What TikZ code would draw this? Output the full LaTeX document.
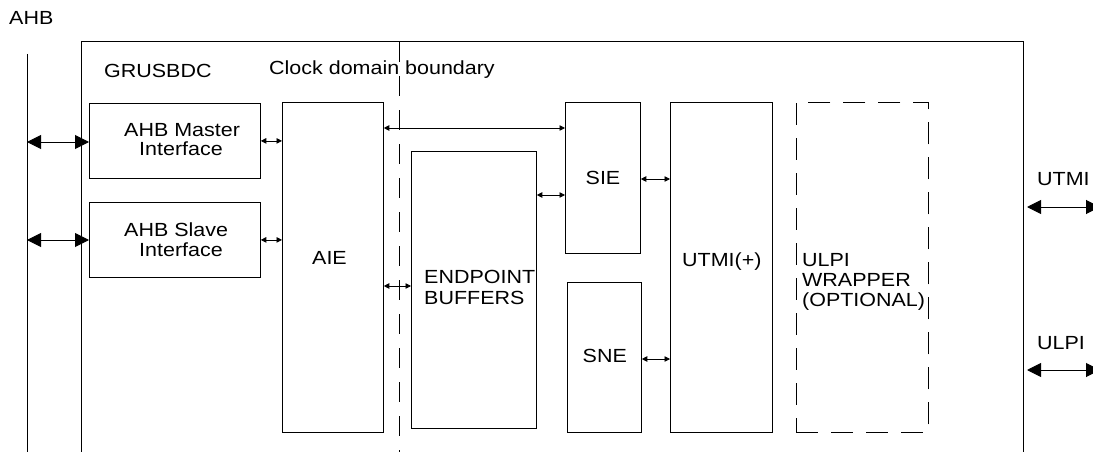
\documentclass[tikz,border=0pt]{standalone}
\usepackage{fontspec}
\setmainfont{Liberation Sans}[FakeStretch=1.13]
\usetikzlibrary{arrows.meta}
\begin{document}
\begin{tikzpicture}[x=1pt,y=-1pt,
  every node/.style={inner sep=0pt, font=\fontsize{19}{20}\selectfont},
  box/.style={draw, line width=0.8pt, anchor=north west},
  dbox/.style={box, dash pattern=on 22pt off 13pt},
  lab/.style={anchor=north west, align=left},
  big/.style={line width=1pt, {Triangle[length=14pt,width=14pt]}-{Triangle[length=14pt,width=14pt]}},
  small/.style={line width=0.8pt, {Triangle[length=5.5pt,width=5.5pt]}-{Triangle[length=5.5pt,width=5.5pt]}},
  frame/.style={line width=1pt},
  clockline/.style={line width=0.8pt, dash pattern=on 20pt off 14pt}
]
\useasboundingbox (0,0) rectangle (1093,452);
\clip (0,0) rectangle (1093,452);

% bus and outer frame
\coordinate (busTop) at (27,54);
\coordinate (busBot) at (27,460);
\draw[frame] (busTop) -- (busBot);
\coordinate (fBL) at (81,460);
\coordinate (fTL) at (81,42);
\coordinate (fTR) at (1023,42);
\coordinate (fBR) at (1023,460);
\draw[frame] (fBL) -- (fTL) -- (fTR) -- (fBR);
\coordinate (clkTop) at (399,42);
\coordinate (clkBot) at (399,460);
\draw[clockline] (clkTop) -- (clkBot);

% free texts
\node[anchor=base west] (ahb) at (9,24.3) {AHB};
\node[anchor=base west] (grusbdc) at (104,77.7) {GRUSBDC};
\node[anchor=base west] (clk) at (269,74.3) {Clock domain boundary};
\node[anchor=base west] (utmilbl) at (1037,185) {UTMI};
\node[anchor=base west] (ulpilbl) at (1037,349) {ULPI};

% boxes
\node[box, minimum width=171pt, minimum height=75pt,
  label={[lab, font=\fontsize{19}{19}\selectfont, xshift=35pt, yshift=-20.3pt]north west:{AHB Master\\\hspace*{15pt}Interface}}]
  (master) at (89,103) {};
\node[box, minimum width=171pt, minimum height=75pt,
  label={[lab, font=\fontsize{19}{19.5}\selectfont, xshift=35pt, yshift=-20.7pt]north west:{AHB Slave\\\hspace*{15pt}Interface}}]
  (slave) at (89,202) {};
\node[box, minimum width=101pt, minimum height=330pt,
  label={[lab, xshift=30pt, yshift=-149pt]north west:{AIE}}]
  (aie) at (282,102) {};
\node[box, minimum width=125pt, minimum height=277pt,
  label={[lab, font=\fontsize{19}{21}\selectfont, xshift=13pt, yshift=-119pt]north west:{ENDPOINT\\BUFFERS}}]
  (eb) at (411,151) {};
\node[box, minimum width=75pt, minimum height=151pt,
  label={[lab, xshift=20.5pt, yshift=-68.7pt]north west:{SIE}}]
  (sie) at (565,102) {};
\node[box, minimum width=74pt, minimum height=150pt,
  label={[lab, xshift=15.5pt, yshift=-67pt]north west:{SNE}}]
  (sne) at (567,282) {};
\node[box, minimum width=102pt, minimum height=330pt,
  label={[lab, xshift=12pt, yshift=-151pt]north west:{UTMI(+)}}]
  (utmi) at (670,102) {};
\node[dbox, minimum width=132pt, minimum height=330pt,
  label={[lab, font=\fontsize{19}{20}\selectfont, xshift=6pt, yshift=-151pt]north west:{ULPI\\WRAPPER\\(OPTIONAL)}}]
  (ulpi) at (796,102) {};

% connectors
\coordinate (busM) at (27,142);
\coordinate (busS) at (27,240);
\draw[big] (busM) -- (busM -| master.west);
\draw[big] (busS) -- (busS -| slave.west);
\draw[small] (master.east) -- (master.east -| aie.west);
\draw[small] (slave.east) -- (slave.east -| aie.west);
\coordinate (ySIE) at (0,128);
\draw[small] (aie.east |- ySIE) -- (sie.west |- ySIE);
\coordinate (yEB) at (0,286);
\draw[small] (aie.east |- yEB) -- (eb.west |- yEB);
\coordinate (yEBS) at (0,195);
\draw[small] (eb.east |- yEBS) -- (sie.west |- yEBS);
\coordinate (ySU) at (0,179);
\draw[small] (sie.east |- ySU) -- (utmi.west |- ySU);
\coordinate (yNU) at (0,359);
\draw[small] (sne.east |- yNU) -- (utmi.west |- yNU);
\coordinate (utmiA) at (1027,207);
\coordinate (utmiB) at (1100,207);
\draw[big] (utmiA) -- (utmiB);
\coordinate (ulpiA) at (1027,370);
\coordinate (ulpiB) at (1100,370);
\draw[big] (ulpiA) -- (ulpiB);
\end{tikzpicture}
\end{document}
